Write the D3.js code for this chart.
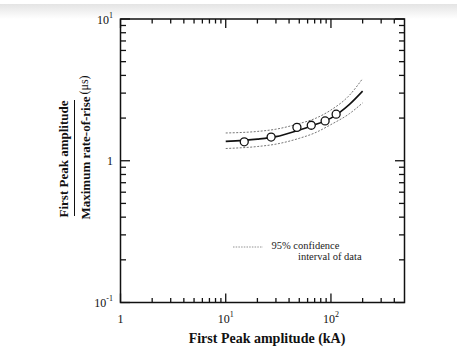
<!DOCTYPE html>
<html>
<head>
<meta charset="utf-8">
<script src="https://cdn.jsdelivr.net/npm/d3@7"></script>
<style>
  body { margin: 0; background: #fff; }
  svg { display: block; }
</style>
</head>
<body>
<div id="chart"></div>
<script>
// measured data (kA, microseconds)
const dataKA = [15, 27, 47.5, 65, 88, 112]
const dataRatio = [1.36, 1.47, 1.72, 1.78, 1.91, 2.13]

// fitted curve and 95% band
const fitKA = [10, 20, 30, 50, 70, 100, 150, 200]
const fitMid = [1.37, 1.42, 1.48, 1.65, 1.79, 2.0, 2.5, 3.1]
const fitUpper = [1.57, 1.61, 1.67, 1.83, 1.98, 2.28, 2.9, 3.8]
const fitLower = [1.22, 1.26, 1.31, 1.44, 1.57, 1.8, 2.15, 2.56]

const xMajor = [1, 10, 100]
const yMajor = [0.1, 1, 10]
const xMinor = [2, 3, 4, 5, 6, 7, 8, 9, 20, 30, 40, 50, 60, 70, 80, 90, 200, 300, 400]
const yMinor = [0.2, 0.3, 0.4, 0.5, 0.6, 0.7, 0.8, 0.9, 2, 3, 4, 5, 6, 7, 8, 9]
const xLabels = [["1", ""], ["10", "1"], ["10", "2"]]
const yLabels = [["10", "-1"], ["1", ""], ["10", "1"]]

const width = 457, height = 349
const serif = "'Liberation Serif', 'Times New Roman', serif"

const x = d3.scaleLog().domain([1, 500]).range([120.5, 404.5])
const y = d3.scaleLog().domain([0.1, 10]).range([302.5, 19])

const svg = d3.select("#chart").append("svg")
  .attr("width", width)
  .attr("height", height)
  .attr("font-family", serif)

// grey strip at the top of the page
const grad = svg.append("defs").append("linearGradient")
  .attr("id", "topfade").attr("x1", 0).attr("y1", 0).attr("x2", 0).attr("y2", 1)
grad.append("stop").attr("offset", "0%").attr("stop-color", "#e4e4e4")
grad.append("stop").attr("offset", "100%").attr("stop-color", "#ffffff")
svg.append("rect").attr("x", 0).attr("y", 4).attr("width", width).attr("height", 15)
  .attr("fill", "url(#topfade)")

// ticks (inward, on all four sides)
const ticks = svg.append("g").attr("stroke", "#111").attr("stroke-width", 1.3)
function tickX(v, len) {
  ticks.append("line").attr("x1", x(v)).attr("x2", x(v)).attr("y1", y.range()[0]).attr("y2", y.range()[0] - len)
  ticks.append("line").attr("x1", x(v)).attr("x2", x(v)).attr("y1", y.range()[1]).attr("y2", y.range()[1] + len)
}
function tickY(v, len) {
  ticks.append("line").attr("y1", y(v)).attr("y2", y(v)).attr("x1", x.range()[0]).attr("x2", x.range()[0] + len)
  ticks.append("line").attr("y1", y(v)).attr("y2", y(v)).attr("x1", x.range()[1]).attr("x2", x.range()[1] - len)
}
xMajor.forEach(v => tickX(v, 9))
xMinor.forEach(v => tickX(v, 4.5))
yMajor.forEach(v => tickY(v, 9.5))
yMinor.forEach(v => tickY(v, 5.5))

svg.append("rect")
  .attr("x", x.range()[0]).attr("y", y.range()[1])
  .attr("width", x.range()[1] - x.range()[0])
  .attr("height", y.range()[0] - y.range()[1])
  .attr("fill", "none").attr("stroke", "#111").attr("stroke-width", 1.5)

// tick labels
function powLabel(sel, base, sup) {
  sel.append("tspan").text(base)
  if (sup) sel.append("tspan").attr("font-size", 8).attr("dy", -6).text(sup)
}
xMajor.forEach((v, i) => {
  const t = svg.append("text").attr("x", x(v)).attr("y", 323)
    .attr("text-anchor", "middle").attr("font-size", 12).attr("fill", "#111")
  powLabel(t, xLabels[i][0], xLabels[i][1])
})
yMajor.forEach((v, i) => {
  const t = svg.append("text").attr("x", 113).attr("y", y(v) + 4.5)
    .attr("text-anchor", "end").attr("font-size", 12).attr("fill", "#111")
  powLabel(t, yLabels[i][0], yLabels[i][1])
})

// axis titles
svg.append("text").attr("x", 267).attr("y", 343)
  .attr("text-anchor", "middle").attr("font-size", 14).attr("font-weight", "bold")
  .attr("fill", "#111").text("First Peak amplitude (kA)")

const yt = svg.append("g").attr("fill", "#111").attr("font-weight", "bold").attr("font-size", 13)
yt.append("text").attr("transform", "translate(67.5,159) rotate(-90)")
  .attr("text-anchor", "middle").text("First Peak amplitude")
yt.append("text").attr("transform", "translate(89.5,158) rotate(-90)")
  .attr("text-anchor", "middle").text("Maximum rate-of-rise")
yt.append("line").attr("x1", 74.5).attr("x2", 74.5).attr("y1", 100).attr("y2", 216)
  .attr("stroke", "#111").attr("stroke-width", 1)
yt.append("text").attr("transform", "translate(88,85) rotate(-90)")
  .attr("text-anchor", "middle").attr("font-weight", "normal").attr("font-size", 12)
  .text("(μs)")

// curves
const line = d3.line().x(d => x(d[0])).y(d => y(d[1])).curve(d3.curveMonotoneX)
const plot = svg.append("g").attr("fill", "none")
plot.append("path").attr("d", line(d3.zip(fitKA, fitUpper)))
  .attr("stroke", "#666").attr("stroke-width", 0.9).attr("stroke-dasharray", "2,1.5")
plot.append("path").attr("d", line(d3.zip(fitKA, fitLower)))
  .attr("stroke", "#666").attr("stroke-width", 0.9).attr("stroke-dasharray", "2,1.5")
plot.append("path").attr("d", line(d3.zip(fitKA, fitMid)))
  .attr("stroke", "#111").attr("stroke-width", 1.6)

svg.append("g").selectAll("circle")
  .data(d3.zip(dataKA, dataRatio))
  .join("circle")
  .attr("cx", d => x(d[0]))
  .attr("cy", d => y(d[1]))
  .attr("r", 4)
  .attr("fill", "#fff")
  .attr("stroke", "#111")
  .attr("stroke-width", 1.3)

// legend
svg.append("line").attr("x1", 233).attr("x2", 263).attr("y1", 247).attr("y2", 247)
  .attr("stroke", "#777").attr("stroke-width", 0.8).attr("stroke-dasharray", "1.5,1.2")
svg.append("text").attr("x", 271.5).attr("y", 248.5).attr("font-size", 10.5).attr("fill", "#222")
  .text("95% confidence")
svg.append("text").attr("x", 298).attr("y", 260).attr("font-size", 10.5).attr("fill", "#222")
  .text("interval of data")
</script>
</body>
</html>
